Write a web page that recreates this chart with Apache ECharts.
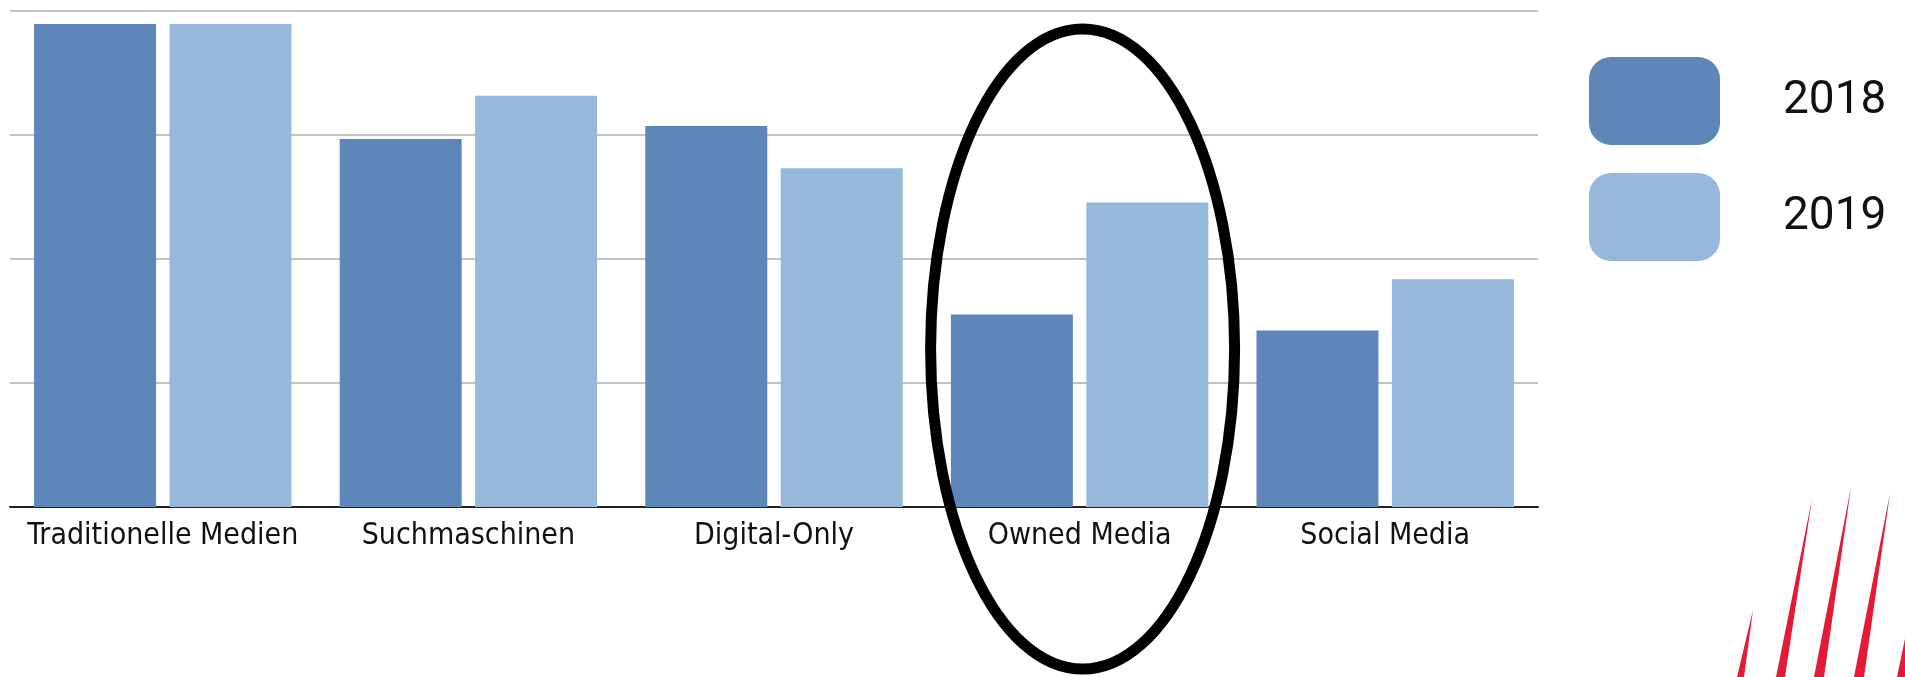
<!DOCTYPE html>
<html>
<head>
<meta charset="utf-8">
<script src="https://cdn.jsdelivr.net/npm/echarts@6/dist/echarts.min.js"></script>
<style>
  html, body { margin: 0; padding: 0; background: #ffffff; }
  #chart { width: 1905px; height: 677px; }
</style>
</head>
<body>
<div id="chart"></div>
<script>
// Media channels compared across two years
const categories = ['Traditionelle Medien', 'Suchmaschinen', 'Digital-Only', 'Owned Media', 'Social Media'];
const years = ['2018', '2019'];
const values2018 = [97.4, 74.2, 76.8, 38.8, 35.6];
const values2019 = [97.4, 82.9, 68.3, 61.4, 45.9];
const highlighted = 'Owned Media';

const COLOR_2018 = '#5e86b8';
const COLOR_2019 = '#96b8db';
const RED = '#e31b36';

const chart = echarts.init(document.getElementById('chart'), null, { renderer: 'canvas' });

const option = {
  animation: false,
  backgroundColor: '#ffffff',
  grid: { left: 10, right: 367, top: 11, bottom: 170, containLabel: false },
  legend: {
    orient: 'vertical',
    left: 1584,
    top: 52,
    icon: 'roundRect',
    itemWidth: 131,
    itemHeight: 88,
    itemGap: 28,
    selectedMode: false,
    data: years,
    textStyle: {
      fontFamily: 'Roboto, "Noto Sans", sans-serif',
      fontSize: 46,
      color: '#111111',
      padding: [0, 0, 8, 58]
    }
  },
  xAxis: {
    type: 'category',
    data: categories,
    axisTick: { show: false },
    axisLine: { show: true, lineStyle: { color: '#222222', width: 2 } },
    axisLabel: {
      margin: 14,
      fontFamily: '"DejaVu Sans Condensed", "Liberation Sans Narrow", sans-serif',
      fontSize: 30,
      color: '#111111',
      interval: 0
    }
  },
  yAxis: {
    type: 'value',
    min: 0,
    max: 100,
    interval: 25,
    axisLabel: { show: false },
    axisLine: { show: false },
    axisTick: { show: false },
    splitLine: { show: true, lineStyle: { color: '#c2c2c2', width: 2 } }
  },
  series: [
    {
      name: years[0],
      type: 'bar',
      data: values2018,
      barWidth: 122,
      barGap: '11%',
      itemStyle: { color: COLOR_2018 }
    },
    {
      name: years[1],
      type: 'bar',
      data: values2019,
      barWidth: 122,
      barGap: '11%',
      itemStyle: { color: COLOR_2019 }
    }
  ]
};

chart.setOption(option);

// Highlight ring around the emphasised category, plus the red corner stripes
const cx = chart.convertToPixel({ xAxisIndex: 0 }, highlighted) + 3;

function stripe(tipX, tipY, baseL, baseR) {
  return {
    type: 'polygon',
    silent: true,
    z: 5,
    shape: { points: [[tipX, tipY], [baseR, 677], [baseL, 677]] },
    style: { fill: RED }
  };
}

chart.setOption({
  graphic: [
    {
      type: 'ellipse',
      silent: true,
      z: 100,
      shape: { cx: cx, cy: 349, rx: 152, ry: 320 },
      style: { fill: 'none', stroke: '#000000', lineWidth: 11 }
    },
    stripe(1753, 610, 1737, 1744),
    stripe(1812, 499, 1776, 1785),
    stripe(1851, 487, 1814, 1824),
    stripe(1890, 493, 1854, 1864),
    stripe(1935, 495, 1897, 1907)
  ]
});
</script>
</body>
</html>
